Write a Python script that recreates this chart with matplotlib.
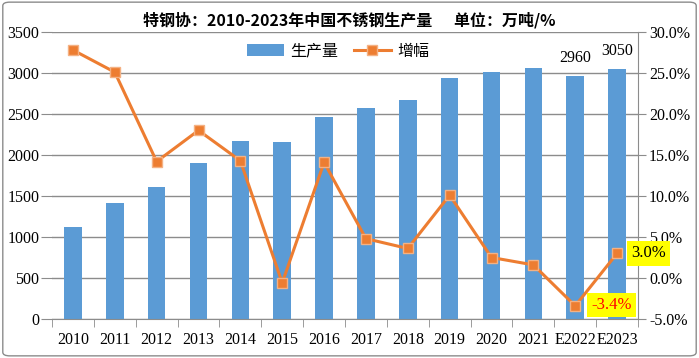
import matplotlib.pyplot as plt
import numpy as np
from matplotlib.patches import FancyBboxPatch

plt.rcParams['font.family'] = ['Liberation Serif', 'Noto Sans CJK SC', 'DejaVu Sans']

years = ['2010', '2011', '2012', '2013', '2014', '2015', '2016', '2017',
         '2018', '2019', '2020', '2021', 'E2022', 'E2023']
output = [1126, 1409, 1609, 1898, 2169, 2156, 2460, 2577, 2671, 2940, 3014, 3063, 2960, 3050]
growth = [27.8, 25.1, 14.2, 18.0, 14.3, -0.6, 14.1, 4.8, 3.6, 10.1, 2.5, 1.6, -3.4, 3.0]

bar_color = '#5B9BD5'
line_color = '#ED7D31'

fig = plt.figure(figsize=(6.99, 3.58), dpi=100)
fig.patches.append(FancyBboxPatch((0.004, 0.006), 0.992, 0.988, boxstyle='round,pad=0,rounding_size=0.01',
                                  transform=fig.transFigure, fill=False, edgecolor='#8c8c8c', linewidth=1))
ax = fig.add_axes([52 / 699, 1 - 319 / 358, (638 - 52) / 699, (319 - 32) / 358])
x = np.arange(len(years))
ax.bar(x, output, width=0.42, color=bar_color, label='生产量', zorder=2)
ax.set_xlim(-0.5, len(years) - 0.5)
ax.set_ylim(0, 3500)
ax.set_yticks(range(0, 3501, 500))
ax.grid(axis='y', color='#8c8c8c', linewidth=1, zorder=0)
ax.set_axisbelow(True)
ax.set_xticks(x)
ax.set_xticklabels(years, fontsize=11.5)
ax.set_xticks(np.arange(-0.5, len(years), 1), minor=True)
ax.tick_params(axis='x', which='major', length=0, pad=9)
ax.tick_params(axis='x', which='minor', length=6, color='#8c8c8c', direction='out')
ax.tick_params(axis='y', length=8, color='#8c8c8c', labelsize=11.5, pad=1)
for s in ['top', 'left', 'right']:
    ax.spines[s].set_visible(False)
ax.spines['bottom'].set_color('#8c8c8c')

for i in (12, 13):
    ax.text(x[i], output[i] + 120, str(output[i]), ha='center', va='bottom', fontsize=11.5)

ax2 = ax.twinx()
ax2.plot(x, growth, color=line_color, linewidth=2.2, marker='s', markersize=7.5,
         markerfacecolor=line_color, markeredgecolor='#F4B183', markeredgewidth=1, label='增幅', zorder=3)
ax2.set_ylim(-5, 30)
ax2.set_yticks(range(-5, 31, 5))
ax2.set_yticklabels([f'{v:.1f}%' for v in range(-5, 31, 5)], fontsize=11.5)
ax2.tick_params(axis='y', length=6, color='#8c8c8c', pad=2)
for s in ['top', 'left', 'bottom']:
    ax2.spines[s].set_visible(False)
ax2.spines['right'].set_color('#8c8c8c')

ax2.text(x[13] + 0.33, growth[13], f'{growth[13]:.1f}%', ha='left', va='center', fontsize=12,
         bbox=dict(facecolor='#FFFF00', edgecolor='none', pad=3))
ax2.text(x[12] + 0.38, growth[12] + 0.1, f'{growth[12]:.1f}%', ha='left', va='center', fontsize=12,
         color='#FF0000', bbox=dict(facecolor='#FFFF00', edgecolor='none', pad=3))

h1, l1 = ax.get_legend_handles_labels()
h2, l2 = ax2.get_legend_handles_labels()
ax.legend(h1 + h2, l1 + l2, loc='upper center', bbox_to_anchor=(0.488, 1.01), ncol=2, frameon=False,
          fontsize=11.5, handlelength=2.3, handletextpad=0.4, columnspacing=1.0)

fig.text(0.5, 1 - 20 / 358, '特钢协：2010-2023年中国不锈钢生产量      单位：万吨/%', ha='center', va='center',
         fontsize=11.5, fontweight='semibold', family=['Noto Sans CJK SC'])

fig.savefig('out.png', dpi=100)
